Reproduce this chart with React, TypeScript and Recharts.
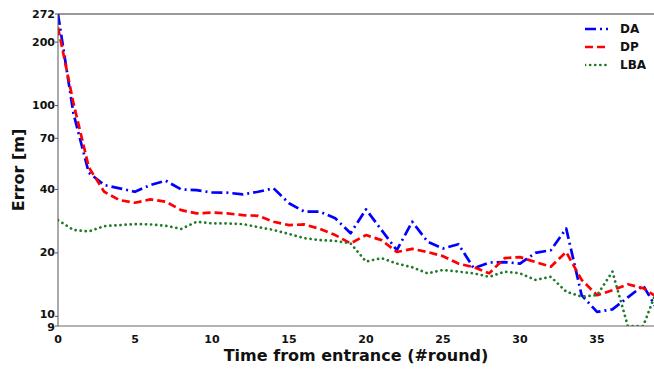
import React from 'react';
import { LineChart, Line, XAxis, YAxis, ReferenceLine } from 'recharts';

// Localization error per round after entering the area (log scale)
const rounds = Array.from({ length: 40 }, (_, i) => i);

const daError = [
  272, 92, 48, 42, 40.5, 39, 42, 44, 40, 39.7,
  38.7, 38.6, 37.9, 39, 40.5, 34.4, 31.4, 31.4, 29.2, 24.8,
  32.2, 25.7, 20.6, 28.1, 22.6, 21, 22, 16.9, 18, 18.1,
  17.8, 20, 20.6, 26.1, 12.6, 10.5, 10.8, 12.3, 14, 10.5,
];

const dpError = [
  235, 103, 51, 39, 35.6, 34.6, 35.9, 35, 31.9, 30.8,
  31.1, 30.8, 30.2, 30, 28.1, 27.1, 27.3, 26, 24.3, 22.2,
  24.3, 23, 20.2, 20.9, 20.2, 19.3, 17.8, 17.1, 16, 18.9,
  19.1, 18.1, 17.2, 20.2, 14.9, 12.6, 13.3, 14.2, 13.6, 12.2,
];

const lbaError = [
  28.6, 25.7, 25.3, 26.8, 27.1, 27.4, 27.3, 26.9, 26, 28.1,
  27.6, 27.6, 27.4, 26.5, 25.7, 24.6, 23.5, 23, 22.8, 22.2,
  18.2, 18.9, 17.8, 17.1, 16, 16.6, 16.3, 16, 15.4, 16.3,
  16, 14.9, 15.4, 13.1, 12.4, 12.6, 16.3, 9, 9, 14,
];

const xTicks = [0, 5, 10, 15, 20, 25, 30, 35];
const yTicks = [9, 10, 20, 40, 70, 100, 200, 272];

const data = rounds.map((r, i) => ({
  round: r,
  DA: daError[i],
  DP: dpError[i],
  LBA: lbaError[i],
}));

const FONT = '"DejaVu Sans", sans-serif';

const series = [
  { key: 'DA', color: '#0000ff', dash: '11 4 2 4', cap: 'butt' as const },
  { key: 'DP', color: '#ff0000', dash: '8 4', cap: 'butt' as const },
  { key: 'LBA', color: '#1f7a2a', dash: '0.1 5', cap: 'round' as const },
];

const tickStyle = { fontSize: 11, fontWeight: 'bold', fill: '#111', fontFamily: FONT };

// 9 and 10 sit very close on the log axis, so spread their labels a little
const YTick = (props: any) => {
  const { x, y, payload } = props;
  const nudge = payload.value === 10 ? -2 : payload.value === 9 ? 1.5 : 0;
  return (
    <text
      x={x}
      y={y + nudge}
      textAnchor="end"
      dominantBaseline="central"
      {...tickStyle}
    >
      {payload.value}
    </text>
  );
};

// legend overlaid in the top-right corner
const LegendBox = () => (
  <svg width={70} height={56} style={{ position: 'absolute', left: 585, top: 21 }}>
    {series.map((s, i) => (
      <g key={s.key}>
        <line
          x1={0}
          x2={23}
          y1={8 + i * 18}
          y2={8 + i * 18}
          stroke={s.color}
          strokeWidth={2.7}
          strokeDasharray={s.dash}
          strokeLinecap={s.cap}
        />
        <text
          x={35}
          y={8 + i * 18}
          dominantBaseline="central"
          fontSize={12}
          fontWeight="bold"
          fontFamily={FONT}
          fill="#111"
        >
          {s.key}
        </text>
      </g>
    ))}
  </svg>
);

export default function App() {
  return (
    <div style={{ width: 654, height: 369, background: '#fff', position: 'relative' }}>
      <style>{'body { margin: 0; }'}</style>
      <LineChart
        width={654}
        height={369}
        data={data}
        margin={{ top: 14, right: 0, bottom: 0, left: 0 }}
      >
        <XAxis
          dataKey="round"
          type="number"
          domain={[0, 38.7]}
          ticks={xTicks}
          interval={0}
          allowDataOverflow
          height={43}
          tickLine={false}
          tickSize={4}
          tickMargin={5}
          tick={tickStyle}
          stroke="#666"
          label={{
            value: 'Time from entrance (#round)',
            position: 'insideBottom',
            offset: 8,
            style: { fontSize: 16, fontWeight: 'bold', fill: '#111', fontFamily: FONT },
          }}
        />
        <YAxis
          scale="log"
          domain={[9, 272]}
          ticks={yTicks}
          interval={0}
          allowDataOverflow
          width={58}
          tickSize={3}
          tickMargin={0}
          tick={<YTick />}
          stroke="#555"
          label={{
            content: () => (
              <text
                x={18}
                y={170}
                transform="rotate(-90, 18, 170)"
                textAnchor="middle"
                dominantBaseline="central"
                fontSize={16}
                fontWeight="bold"
                fontFamily={FONT}
                fill="#111"
              >
                Error [m]
              </text>
            ),
          }}
        />
        <ReferenceLine y={272} stroke="#999" strokeWidth={2} />
        {series.map((s) => (
          <Line
            key={s.key}
            dataKey={s.key}
            type="linear"
            stroke={s.color}
            strokeWidth={2.7}
            strokeDasharray={s.dash}
            strokeLinecap={s.cap}
            strokeLinejoin="round"
            dot={false}
            isAnimationActive={false}
          />
        ))}
      </LineChart>
      <LegendBox />
    </div>
  );
}
